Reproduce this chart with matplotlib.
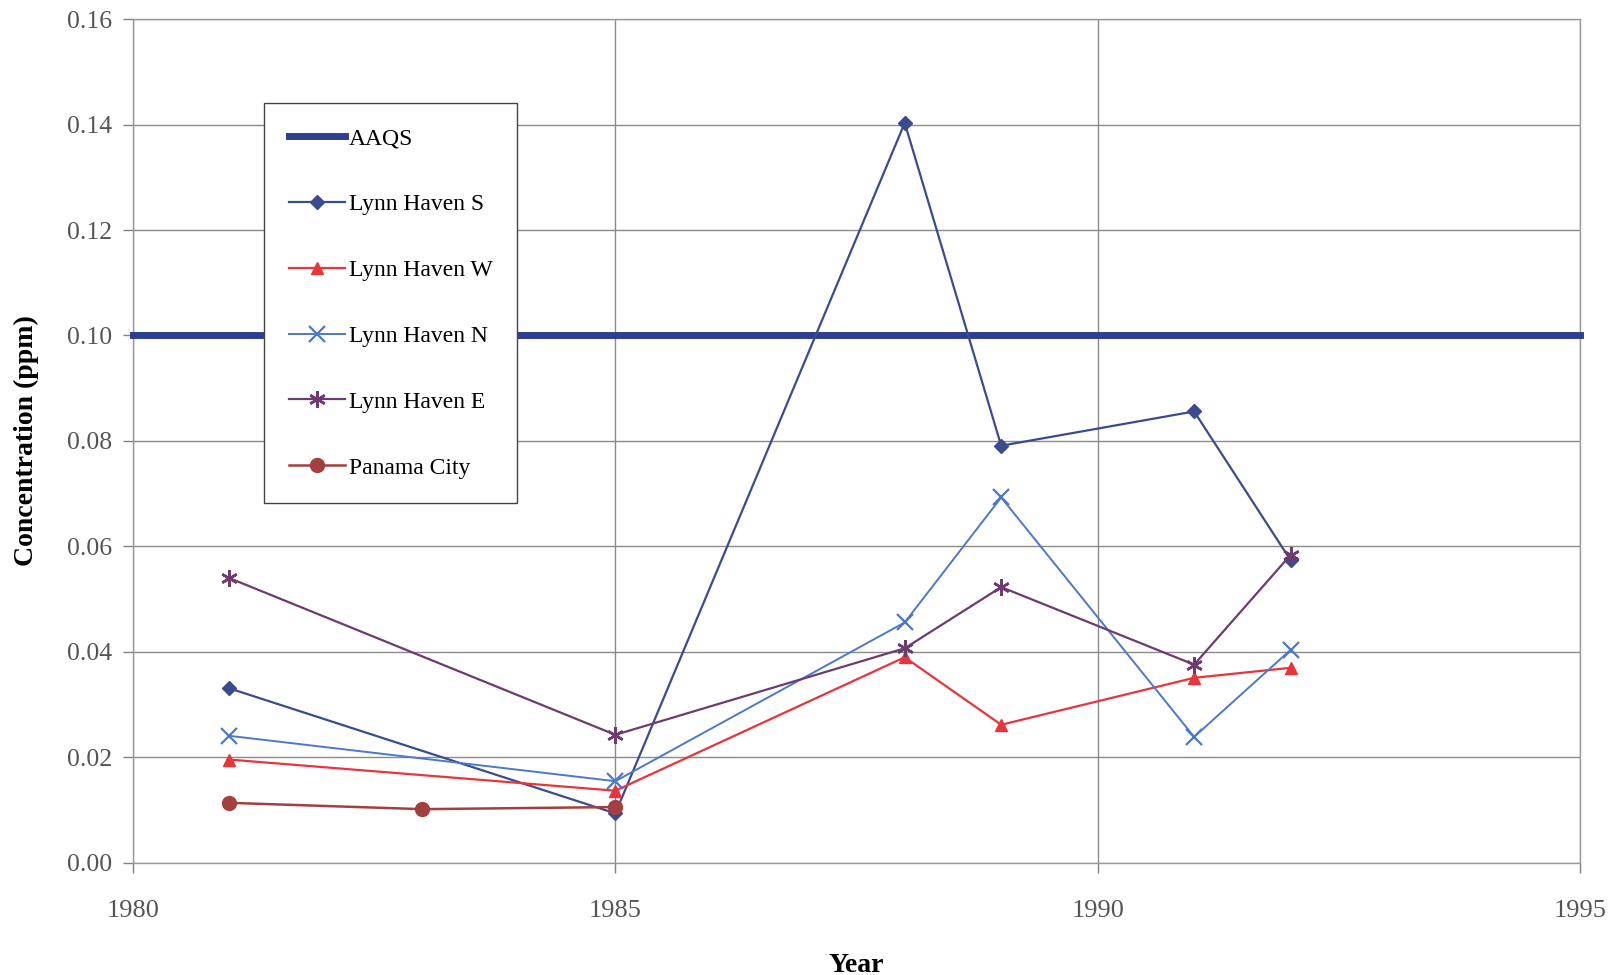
import matplotlib
matplotlib.use("Agg")
import matplotlib.pyplot as plt

plt.rcParams['font.family'] = ['Liberation Serif', 'DejaVu Serif']

years_main = [1981, 1985, 1988, 1989, 1991, 1992]
lynn_s = [0.0331, 0.0094, 0.1403, 0.0791, 0.0856, 0.0574]
lynn_w = [0.0196, 0.0137, 0.0390, 0.0262, 0.0351, 0.0370]
lynn_n = [0.0241, 0.0155, 0.0456, 0.0693, 0.0239, 0.0404]
lynn_e = [0.0540, 0.0243, 0.0407, 0.0523, 0.0376, 0.0584]
years_pc = [1981, 1983, 1985]
panama = [0.0114, 0.0102, 0.0106]
aaqs_years = [1980, 1995]
aaqs = [0.10, 0.10]

xticks = [1980, 1985, 1990, 1995]
yticks = [0.00, 0.02, 0.04, 0.06, 0.08, 0.10, 0.12, 0.14, 0.16]

fig = plt.figure(figsize=(16.2, 9.75), dpi=100)
ax = fig.add_axes([0.0821, 0.1149, 0.8932, 0.8656])

ax.plot(aaqs_years, aaqs, color='#2F3F8F', lw=5, label='AAQS', clip_on=False,
        solid_capstyle='projecting', zorder=3)
ax.plot(years_main, lynn_s, color='#3B4C8E', lw=1.6, marker='D', ms=7,
        label='Lynn Haven S', zorder=4)
ax.plot(years_main, lynn_w, color='#E8353C', lw=1.6, marker='^', ms=9,
        label='Lynn Haven W', zorder=4)
ax.plot(years_main, lynn_n, color='#4C78C9', lw=1.4, marker='x', ms=11, mew=1.6,
        label='Lynn Haven N', zorder=4)
ax.plot(years_main, lynn_e, color='#6E3B6E', lw=1.6, marker=(6, 2, 0), ms=12, mew=1.8,
        label='Lynn Haven E', zorder=4)
ax.plot(years_pc, panama, color='#A3403F', lw=1.8, marker='o', ms=10,
        label='Panama City', zorder=4)

ax.set_xlim(1980, 1995)
ax.set_ylim(0, 0.16)
ax.set_xticks(xticks)
ax.set_yticks(yticks)
ax.set_yticklabels([f"{v:.2f}" for v in yticks])
ax.grid(True, color='#8A8A8A', lw=1.0)
ax.set_axisbelow(True)
for s in ax.spines.values():
    s.set_color('#9A9A9A')
    s.set_linewidth(1.0)
ax.tick_params(axis='both', direction='out', length=7, color='#808080', width=1.0)
ax.tick_params(axis='y', labelsize=18.5, labelcolor='#555555', pad=8)
ax.tick_params(axis='x', labelsize=19, labelcolor='#555555', pad=20)

ax.set_xlabel('Year', fontsize=20, fontweight='bold', labelpad=22)
ax.set_ylabel('Concentration (ppm)', fontsize=20, fontweight='bold', labelpad=20)

leg = ax.legend(loc='upper left', bbox_to_anchor=(0.0905, 0.9008), fontsize=17,
                frameon=True, fancybox=False, edgecolor='#444444', framealpha=1,
                labelspacing=1.88, handlelength=2.4, handletextpad=0.15,
                borderpad=1.05, borderaxespad=0)
leg.get_frame().set_linewidth(1.0)

fig.savefig('out.png', dpi=100)
